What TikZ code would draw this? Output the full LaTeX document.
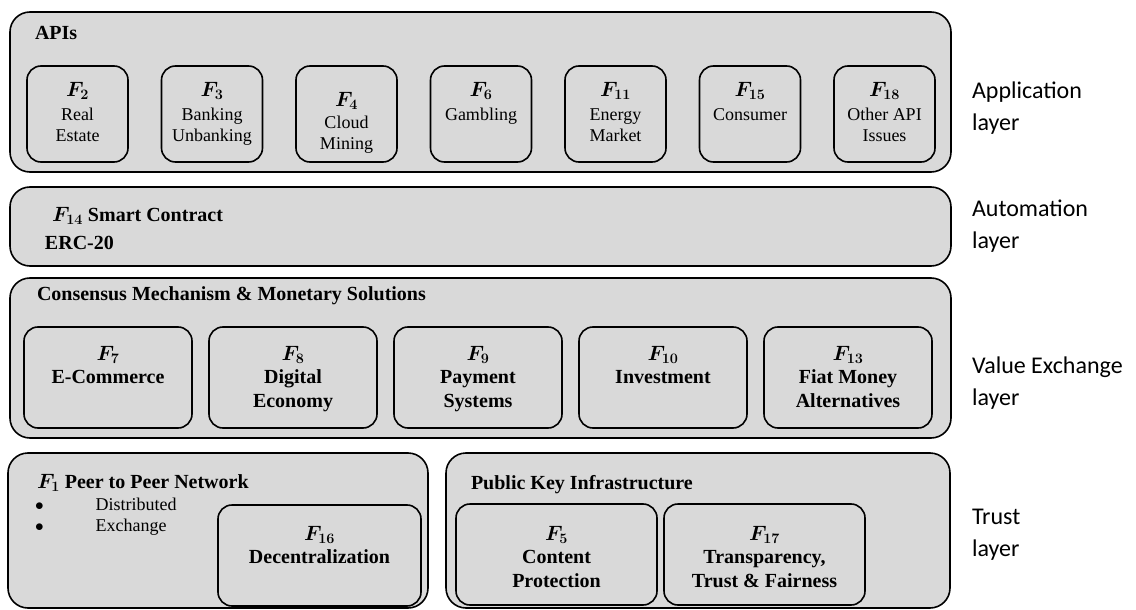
\documentclass[tikz,border=0pt]{standalone}
\usepackage{fontspec}
\setmainfont{Liberation Serif}
\newfontfamily\layerfont{Carlito}
\usetikzlibrary{positioning}
\definecolor{boxgray}{HTML}{D9D9D9}
\newcommand{\flabel}[1]{{\fontsize{20}{21}\selectfont\boldmath$F_{#1}$}}

\begin{document}
\begin{tikzpicture}[x=1pt, y=-1pt, line width=1.6pt,
      every node/.append style={outer sep=0pt},
      layerbox/.style={draw, fill=boxgray, rounded corners=20pt, inner sep=0pt},
      fbox/.style={draw, fill=boxgray, rounded corners=14pt, inner sep=0pt},
      apibox/.style={fbox, minimum width=101pt, minimum height=96pt},
      valbox/.style={fbox, minimum width=168pt, minimum height=101pt},
      plain/.style={inner sep=0pt, align=center, font=\fontsize{18}{21}\selectfont},
      strong/.style={inner sep=0pt, align=center, font=\fontsize{20}{23.5}\selectfont\bfseries\boldmath},
      title/.style={inner sep=0pt, anchor=west, font=\fontsize{20}{23}\selectfont\bfseries\boldmath},
      layername/.style={inner sep=0pt, anchor=west, align=left, font=\fontsize{24}{32}\selectfont\layerfont}]
    \useasboundingbox (0,0) rectangle (1136,610);

    \node[layerbox, minimum width=941pt, minimum height=160pt] (app) at (480.5,92) {};
    \node[title] (apis) at (35,33) {APIs};
    \node[apibox] (f2) at (77.5,114) {};
    \node[apibox, right=33.5pt of f2] (f3) {};
    \node[apibox, right=33.5pt of f3] (f4) {};
    \node[apibox, right=33.5pt of f4] (f6) {};
    \node[apibox, right=33.5pt of f6] (f11) {};
    \node[apibox, right=33.5pt of f11] (f15) {};
    \node[apibox, right=33.5pt of f15] (f18) {};
    \node[plain, below=16pt of f2.north] (f2t) {\flabel{2}\\[3pt]Real\\Estate};
    \node[plain, below=16pt of f3.north] (f3t) {\flabel{3}\\[3pt]Banking\\Unbanking};
    \node[plain, below=26pt of f4.north] (f4t) {\flabel{4}\\[1pt]Cloud\\Mining};
    \node[plain, below=16pt of f6.north] (f6t) {\flabel{6}\\[3pt]Gambling};
    \node[plain, below=16pt of f11.north] (f11t) {\flabel{11}\\[3pt]Energy\\Market};
    \node[plain, below=16pt of f15.north] (f15t) {\flabel{15}\\[3pt]Consumer};
    \node[plain, below=16pt of f18.north] (f18t) {\flabel{18}\\[3pt]Other API\\Issues};

    \node[layerbox, minimum width=941pt, minimum height=79pt] (auto) at (480.5,226.5) {};
    \node[title] (smart) at (52,216) {$F_{14}$ Smart Contract};
    \node[title] (erc) at (45,243) {ERC-20};

    \node[layerbox, minimum width=941pt, minimum height=160pt] (value) at (480.5,358) {};
    \node[title] (consensus) at (37,296) {Consensus Mechanism \& Monetary Solutions};
    \node[valbox] (f7) at (108,377.5) {};
    \node[valbox, right=17pt of f7] (f8) {};
    \node[valbox, right=17pt of f8] (f9) {};
    \node[valbox, right=17pt of f9] (f10) {};
    \node[valbox, right=17pt of f10] (f13) {};
    \node[strong, below=19pt of f7.north] (f7t) {$F_{7}$\\E-Commerce};
    \node[strong, below=19pt of f8.north] (f8t) {$F_{8}$\\Digital\\Economy};
    \node[strong, below=19pt of f9.north] (f9t) {$F_{9}$\\Payment\\Systems};
    \node[strong, below=19pt of f10.north] (f10t) {$F_{10}$\\Investment};
    \node[strong, below=19pt of f13.north] (f13t) {$F_{13}$\\Fiat Money\\Alternatives};

    \node[layerbox, minimum width=420pt, minimum height=155pt] (p2p) at (218,530.5) {};
    \node[layerbox, minimum width=504pt, minimum height=155pt] (pki) at (698,530.5) {};
    \node[title] (peer) at (37,483) {$F_{1}$ Peer to Peer Network};
    \node[plain, anchor=north west, align=left] (spread) at (35,498) {$\bullet$\hspace{52pt}Distributed\\$\bullet$\hspace{52pt}Exchange};
    \node[fbox, minimum width=203pt, minimum height=101pt] (f16) at (319.5,555.5) {};
    \node[strong, below=21pt of f16.north] (f16t) {$F_{16}$\\Decentralization};
    \node[title] (keys) at (471,485) {Public Key Infrastructure};
    \node[fbox, minimum width=201pt, minimum height=101pt] (f5) at (556.5,554.5) {};
    \node[fbox, minimum width=201pt, minimum height=101pt, right=7pt of f5] (f17) {};
    \node[strong, below=22pt of f5.north] (f5t) {$F_{5}$\\Content\\Protection};
    \node[strong, below=22pt of f17.north] (f17t) {$F_{17}$\\Transparency,\\Trust \& Fairness};

    \node[layername] (applayer) at (972,108) {Application\\layer};
    \node[layername] (autolayer) at (972,226) {Automation\\layer};
    \node[layername] (valuelayer) at (972,383) {Value Exchange\\layer};
    \node[layername] (trustlayer) at (972,535) {Trust\\layer};
  \end{tikzpicture}
\end{document}
